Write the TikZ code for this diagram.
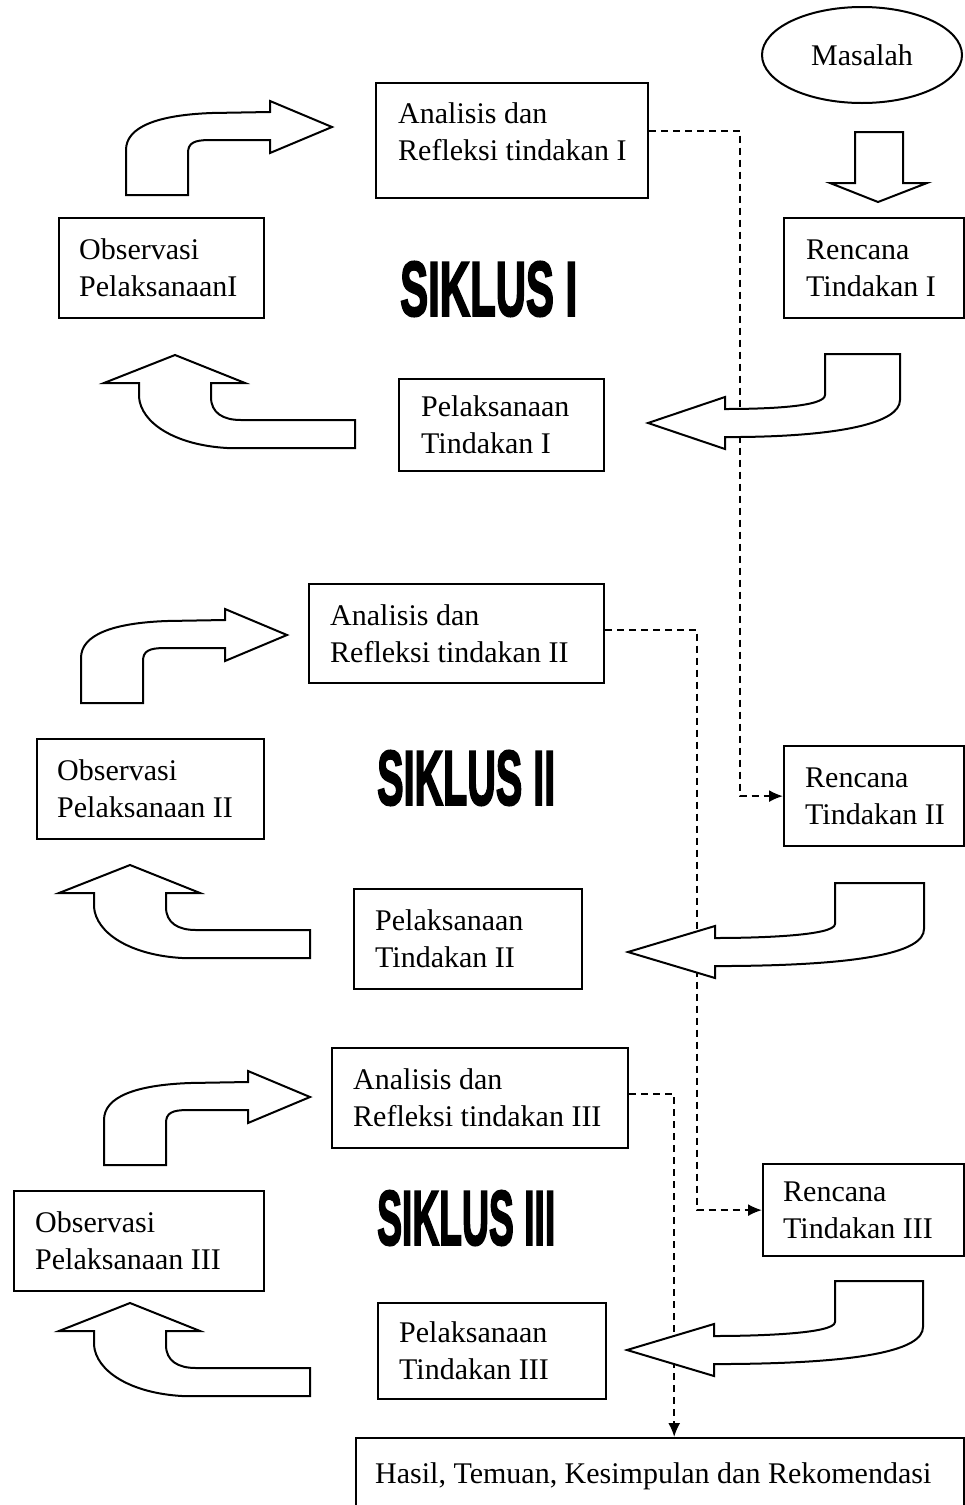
\documentclass[tikz,border=0pt]{standalone}
\usepackage{fontspec}
\setmainfont{Liberation Serif}
\newfontfamily\siklusfont{Liberation Sans}[FakeBold=3]
\usepackage{graphicx}
\usetikzlibrary{arrows.meta,shapes.geometric,calc}
\tikzset{
  box/.style={draw, line width=2.2pt, anchor=north west, inner sep=0pt},
  txt/.style={anchor=west, align=left, inner sep=0pt, font=\fontsize{30}{37}\selectfont},
  blockarrow/.style={draw, fill=white, line width=2pt, line join=miter},
  dashconn/.style={line width=1.8pt, dash pattern=on 7pt off 5pt, -{Latex[length=14pt,width=12pt]}},
  siklus/.style={anchor=west, inner sep=0pt},
}
\newcommand\ULarrow[2]{\draw[blockarrow, shift={(#1,#2)}] (0,0) -- (-62,-26) -- (-62,-15) -- (-120,-14) .. controls (-175,-12) and (-206,0) .. (-206,23) -- (-206,68) -- (-144,68) -- (-144,26) .. controls (-144,16) and (-138,13) .. (-122,13) -- (-62,13) -- (-62,26) -- cycle;}
\newcommand\LLarrow[2]{\draw[blockarrow, shift={(#1,#2)}] (0,0) -- (70,28) -- (36,28) -- (36,42) .. controls (36,58) and (48,65) .. (66,65) -- (180,65) -- (180,93) -- (52,93) .. controls (0,90) and (-34,68) .. (-36,42) -- (-36,28) -- (-71,28) -- cycle;}
\newcommand\Rarrow[5]{\draw[blockarrow, shift={(#1,#2)}] (0,0) -- (#3,-26) -- (#3,-14) .. controls ({#3+40},-14) and (#4,-16) .. (#4,-28) -- (#4,-69) -- (#5,-69) -- (#5,-23) .. controls (#5,0) and ({#5-60},13) .. ({#3+15},14) -- (#3,14) -- (#3,26) -- cycle;}
\begin{document}
\begin{tikzpicture}[x=1pt,y=-1pt]
\useasboundingbox (0,0) rectangle (965,1505);
% top
\node[ellipse, draw, line width=2pt, minimum width=200pt, minimum height=96pt, inner sep=0pt, font=\fontsize{30}{37}\selectfont] (M) at (862,55) {Masalah};
% cycle I
\node[box, minimum width=272pt, minimum height=115pt, label={[txt, xshift=23pt, yshift=9pt]west:{Analisis dan\\Refleksi tindakan I}}] (A1) at (375,82) {};
\node[box, minimum width=205pt, minimum height=100pt, label={[txt, xshift=21pt]west:{Observasi\\PelaksanaanI}}] (O1) at (58,217) {};
\node[box, minimum width=180pt, minimum height=100pt, label={[txt, xshift=23pt]west:{Rencana\\Tindakan I}}] (R1) at (783,217) {};
\node[box, minimum width=205pt, minimum height=92pt, label={[txt, xshift=23pt]west:{Pelaksanaan\\Tindakan I}}] (P1) at (398,378) {};
\node[siklus] (S1) at (400,289) {\resizebox{177pt}{54pt}{\siklusfont\bfseries SIKLUS I}};
% cycle II
\node[box, minimum width=295pt, minimum height=99pt, label={[txt, xshift=22pt]west:{Analisis dan\\Refleksi tindakan II}}] (A2) at (308,583) {};
\node[box, minimum width=227pt, minimum height=100pt, label={[txt, xshift=21pt]west:{Observasi\\Pelaksanaan II}}] (O2) at (36,738) {};
\node[box, minimum width=180pt, minimum height=100pt, label={[txt, xshift=22pt]west:{Rencana\\Tindakan II}}] (R2) at (783,745) {};
\node[box, minimum width=228pt, minimum height=100pt, label={[txt, xshift=22pt]west:{Pelaksanaan\\Tindakan II}}] (P2) at (353,888) {};
\node[siklus] (S2) at (377,778) {\resizebox{178pt}{54pt}{\siklusfont\bfseries SIKLUS II}};
% cycle III
\node[box, minimum width=296pt, minimum height=100pt, label={[txt, xshift=22pt]west:{Analisis dan\\Refleksi tindakan III}}] (A3) at (331,1047) {};
\node[box, minimum width=250pt, minimum height=100pt, label={[txt, xshift=22pt]west:{Observasi\\Pelaksanaan III}}] (O3) at (13,1190) {};
\node[box, minimum width=201pt, minimum height=92pt, label={[txt, xshift=21pt]west:{Rencana\\Tindakan III}}] (R3) at (762,1163) {};
\node[box, minimum width=228pt, minimum height=96pt, label={[txt, xshift=22pt]west:{Pelaksanaan\\Tindakan III}}] (P3) at (377,1302) {};
\node[siklus] (S3) at (377,1218) {\resizebox{178pt}{54pt}{\siklusfont\bfseries SIKLUS III}};
% result
\node[box, minimum width=608pt, minimum height=76pt, label={[txt, xshift=20pt]west:{Hasil, Temuan, Kesimpulan dan Rekomendasi}}] (H) at (355,1437) {};
% dashed connectors
\draw[dashconn] ([yshift=10pt]A1.east) -- ++(91,0) |- (R2.west);
\draw[dashconn] ([yshift=4pt]A2.east) -- ++(92,0) |- (R3.west);
\draw[dashconn] ([yshift=4pt]A3.east) -- ++(45,0) coordinate (c3) -- (c3 |- H.north);
% block arrows
\draw[blockarrow] (855,132) -- (903,132) -- (903,183) -- (927,183) -- (878,202) -- (830,183) -- (855,183) -- cycle;
\ULarrow{332}{127}
\ULarrow{287}{635}
\ULarrow{310}{1097}
\LLarrow{175}{355}
\LLarrow{130}{865}
\LLarrow{130}{1303}
\Rarrow{648}{423}{77}{177}{252}
\Rarrow{628}{952}{87}{207}{296}
\Rarrow{627}{1350}{87}{208}{296}
\end{tikzpicture}
\end{document}
